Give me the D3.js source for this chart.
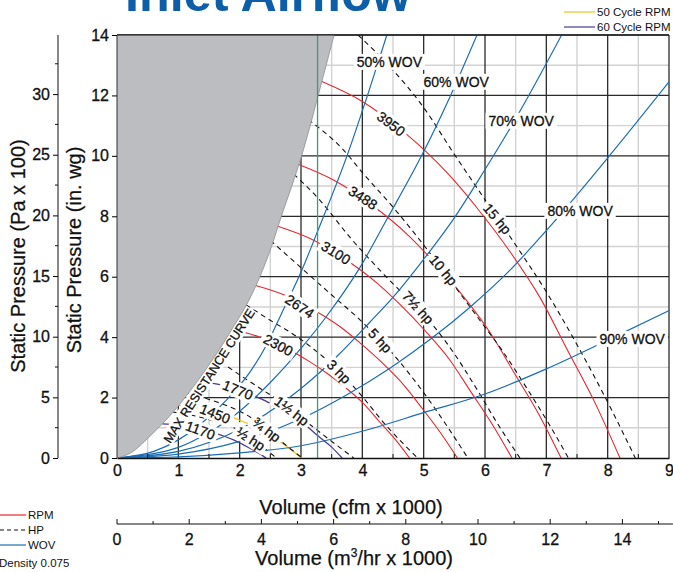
<!DOCTYPE html>
<html>
<head>
<meta charset="utf-8">
<script src="https://cdn.jsdelivr.net/npm/d3@7"></script>
<style>
  body { margin: 0; background: #fff; }
  svg { display: block; font-family: "Liberation Sans", Arial, Helvetica, sans-serif; }
</style>
</head>
<body>
<svg id="chart" width="673" height="572"></svg>
<script>
// ---- data (volume in cfm x 1000, pressure in in. wg) ----
const cfmTicks = [0, 1, 2, 3, 4, 5, 6, 7, 8, 9];
const wgTicks = [0, 2, 4, 6, 8, 10, 12, 14];
const paTicks = [0, 5, 10, 15, 20, 25, 30];
const m3Ticks = [0, 2, 4, 6, 8, 10, 12, 14];

const maxCurve = [[0, 0], [0.25, 0.2], [0.45, 0.55], [0.7, 1.05], [0.93, 1.55], [1.13, 2.05], [1.34, 2.62], [1.54, 3.2], [1.72, 3.75],
  [1.9, 4.35], [2.08, 4.95], [2.33, 6.0], [2.52, 7.0], [2.68, 8.0], [2.85, 9.0], [3.01, 10.0], [3.15, 11.0], [3.28, 12.0], [3.41, 13.0], [3.54, 14.0]];

// fan speed curves
const rpm3950 = [[3.34, 12.46], [4.0, 11.8], [4.7, 10.75], [5.4, 9.4], [5.9, 8.2], [6.4, 6.85], [6.9, 5.3], [7.35, 3.55], [7.8, 1.8], [8.2, 0]];
const rpm3488 = [[2.95, 9.72], [3.53, 9.2], [4.15, 8.38], [4.77, 7.33], [5.21, 6.39], [5.65, 5.34], [6.09, 4.13], [6.49, 2.77], [6.89, 1.4], [7.24, 0]];
const rpm3100 = [[2.62, 7.67], [3.14, 7.27], [3.69, 6.62], [4.24, 5.79], [4.63, 5.05], [5.02, 4.22], [5.42, 3.26], [5.77, 2.19], [6.12, 1.11], [6.44, 0]];
const rpm2674 = [[2.26, 5.71], [2.71, 5.41], [3.18, 4.93], [3.66, 4.31], [3.99, 3.76], [4.33, 3.14], [4.67, 2.43], [4.98, 1.63], [5.28, 0.82], [5.55, 0]];
const rpm2300 = [[1.87, 4.27], [2.33, 4.0], [2.74, 3.65], [3.14, 3.19], [3.44, 2.78], [3.73, 2.32], [4.02, 1.8], [4.28, 1.2], [4.54, 0.61], [4.77, 0]];
const rpm1770 = [[1.31, 2.55], [1.79, 2.37], [2.11, 2.16], [2.42, 1.89], [2.64, 1.65], [2.87, 1.38], [3.09, 1.06], [3.29, 0.71], [3.5, 0.36], [3.67, 0]];
const rpm1450 = [[1.0, 1.74], [1.23, 1.68], [1.47, 1.59], [1.73, 1.45], [1.98, 1.27], [2.17, 1.11], [2.35, 0.92], [2.53, 0.71], [2.7, 0.48], [2.86, 0.24], [3.01, 0]];
const rpm1170 = [[0.74, 1.13], [0.99, 1.09], [1.18, 1.03], [1.39, 0.94], [1.6, 0.82], [1.75, 0.72], [1.9, 0.6], [2.04, 0.46], [2.18, 0.31], [2.31, 0.16], [2.43, 0]];
const rpmLabels = ['3950', '3488', '3100', '2674', '2300', '1770', '1450', '1170'];
const rpmLabelPos = [[4.47, 11.06], [4.01, 8.61], [3.57, 6.79], [2.98, 5.02], [2.63, 3.74], [1.97, 2.25], [1.6, 1.47], [1.36, 0.92]];
const rpmLabelAngle = [37, 33, 32, 34, 28, 22, 22, 20];

// horsepower curves
const hp15 = [[3.93, 14], [4.45, 12.95], [5.0, 11.6], [5.5, 10.05], [6.0, 8.55], [6.5, 7.05], [7.0, 5.5], [7.5, 3.75], [8.0, 1.85], [8.45, 0]];
const hp10 = [[3.12, 11.2], [3.69, 10.2], [4.02, 9.4], [4.48, 8.35], [5.0, 7.05], [5.5, 5.7], [5.9, 4.6], [6.3, 3.5], [6.7, 2.25], [7.05, 1.1], [7.36, 0]];
const hp7half = [[2.88, 9.4], [3.3, 8.55], [3.8, 7.3], [4.34, 6.1], [4.9, 4.95], [5.21, 4.25], [5.5, 3.45], [5.86, 2.3], [6.2, 1.15], [6.57, 0]];
const hp5 = [[2.5, 7.2], [3.0, 6.3], [3.47, 5.45], [4.02, 4.46], [4.56, 3.3], [4.95, 2.3], [5.35, 1.15], [5.72, 0]];
const hp3 = [[2.1, 5.07], [2.49, 4.57], [2.93, 4.02], [3.36, 3.35], [3.66, 2.8], [3.95, 2.15], [4.4, 1.05], [4.9, 0]];
const hp1half = [[1.57, 3.35], [2.0, 2.75], [2.33, 2.31], [2.6, 1.95], [2.85, 1.56], [3.15, 1.1], [3.5, 0.55], [3.86, 0]];
const hp3q = [[1.16, 2.15], [1.7, 1.8], [2.0, 1.55], [2.25, 1.25], [2.5, 0.85], [2.75, 0.43], [3.02, 0]];
const hpHalf = [[0.91, 1.52], [1.4, 1.33], [1.65, 1.18], [1.9, 1.0], [2.15, 0.72], [2.38, 0.36], [2.6, 0]];
const hpLabels = ['15 hp', '10 hp', '7½ hp', '5 hp', '3 hp', '1½ hp', '¾ hp', '½ hp'];
const hpLabelPos = [[6.2, 7.92], [5.32, 6.22], [4.91, 4.98], [4.29, 3.89], [3.62, 2.86], [2.85, 1.56], [2.44, 0.94], [2.18, 0.64]];
const hpLabelAngle = [50, 50, 48, 47, 45, 37, 37, 33];

// wide open volume (system) curves
const wov50 = [[0, 0], [0.6, 0.22], [1.0, 0.6], [1.35, 1.1], [1.8, 1.95], [2.17, 2.85], [2.44, 3.75], [2.71, 4.9], [3.01, 6.2], [3.27, 7.5], [3.75, 10.0], [4.1, 12.1], [4.4, 14]];
const wov60 = [[0, 0], [1.0, 0.35], [1.5, 0.85], [2.0, 1.55], [2.5, 2.5], [3.03, 3.7], [3.42, 4.7], [3.96, 6.3], [4.4, 7.9], [4.99, 10.1], [5.43, 11.96], [5.87, 14]];
const wov70 = [[0, 0], [1, 0.22], [2, 0.95], [3, 2.3], [3.58, 3.35], [4.13, 4.51], [4.51, 5.34], [4.99, 6.55], [5.5, 7.95], [5.97, 9.45], [6.52, 11.3], [7.25, 14]];
const wov80 = [[0, 0], [1, 0.13], [2, 0.55], [3, 1.3], [3.77, 2.12], [4.45, 2.97], [5.13, 3.96], [5.76, 5.0], [6.4, 6.2], [7.01, 7.55], [8.04, 10.03], [9.0, 12.45]];
const wov90 = [[0, 0], [1, 0.04], [2, 0.17], [2.93, 0.38], [4.13, 0.96], [5, 1.5], [6, 2.12], [7, 2.95], [8, 3.9], [9, 4.88]];
const wovLabels = ['50% WOV', '60% WOV', '70% WOV', '80% WOV', '90% WOV'];
const wovLabelPos = [[4.44, 13.11], [5.53, 12.45], [6.59, 11.16], [7.55, 8.18], [8.4, 3.94]];

const maxLabelPos = [1.5, 2.72];
const markedVolume = 3.27;   // green vertical line

// ---- scales ----
const svg = d3.select('#chart');
const x = d3.scaleLinear().domain([0, 9]).range([117, 669]);
const y = d3.scaleLinear().domain([0, 14]).range([458, 35]);
const yPa = d3.scaleLinear().domain([0, 14 * 2.4909]).range([458, 35]);
const xM3 = d3.scaleLinear().domain([0, 15.4]).range([117, x(15.4 / 1.699)]);

const RED = '#e8262d', BLUE = '#1b6db4', PURPLE = '#4b3a93', YELLOW = '#f4c41a';

svg.append('defs').append('clipPath').attr('id', 'plot')
  .append('rect').attr('x', x(0)).attr('y', y(14)).attr('width', x(9) - x(0)).attr('height', y(0) - y(14));

// ---- grid ----
const grid = svg.append('g');
grid.selectAll('.vmin').data(d3.range(0.5, 9, 1)).enter().append('line')
  .attr('x1', d => x(d)).attr('x2', d => x(d)).attr('y1', y(0)).attr('y2', y(14))
  .attr('stroke', '#d2d2d2').attr('stroke-width', 1.4);
grid.selectAll('.hmin').data(d3.range(1, 14, 2)).enter().append('line')
  .attr('x1', x(0)).attr('x2', x(9)).attr('y1', d => y(d)).attr('y2', d => y(d))
  .attr('stroke', '#d2d2d2').attr('stroke-width', 1.4);
grid.selectAll('.vmaj').data(d3.range(1, 10)).enter().append('line')
  .attr('x1', d => x(d)).attr('x2', d => x(d)).attr('y1', y(0)).attr('y2', y(14))
  .attr('stroke', '#2a2a2a').attr('stroke-width', 1.3);
grid.selectAll('.hmaj').data(d3.range(2, 15, 2)).enter().append('line')
  .attr('x1', x(0)).attr('x2', x(9)).attr('y1', d => y(d)).attr('y2', d => y(d))
  .attr('stroke', '#2a2a2a').attr('stroke-width', 1.3);

// ---- curves ----
const line = d3.line().x(d => x(d[0])).y(d => y(d[1])).curve(d3.curveMonotoneX);
const curves = svg.append('g').attr('clip-path', 'url(#plot)').attr('fill', 'none');

[rpm3950, rpm3488, rpm3100, rpm2674, rpm2300].forEach(c => {
  curves.append('path').attr('d', line(c)).attr('stroke', RED).attr('stroke-width', 1.1);
});
curves.append('path').attr('d', line(rpm1770)).attr('stroke', PURPLE).attr('stroke-width', 1.3);
curves.append('path').attr('d', line(rpm1450)).attr('stroke', YELLOW).attr('stroke-width', 1.3);
curves.append('path').attr('d', line(rpm1170)).attr('stroke', PURPLE).attr('stroke-width', 1.3);

[hp15, hp10, hp7half, hp5, hp3, hp1half, hp3q, hpHalf].forEach(c => {
  curves.append('path').attr('d', line(c)).attr('stroke', '#111').attr('stroke-width', 1.1).attr('stroke-dasharray', '5,4');
});

[wov50, wov60, wov70, wov80, wov90].forEach(c => {
  curves.append('path').attr('d', line(c)).attr('stroke', BLUE).attr('stroke-width', 1.2);
});

// ---- label helper: text on a white box ----
function addLabel(layer, txt, px, py, angle, size, pad) {
  const g = layer.append('g').attr('transform', `translate(${px},${py}) rotate(${angle})`);
  const r = g.append('rect').attr('fill', '#fff');
  const t = g.append('text').attr('text-anchor', 'middle').attr('dy', '0.36em')
    .style('font-size', size + 'px').attr('fill', '#111')
    .attr('stroke', '#111').attr('stroke-width', 0.3).text(txt);
  const w = t.node().getComputedTextLength();
  const p = pad === undefined ? 3 : pad;
  r.attr('x', -w / 2 - p).attr('y', -size / 2 - 1).attr('width', w + 2 * p).attr('height', size + 2);
}

// max resistance label: drawn before the grey so the grey edge stays on top
const labels0 = svg.append('g');
addLabel(labels0, 'MAX RESISTANCE CURVE', x(maxLabelPos[0]), y(maxLabelPos[1]), -57, 12.5, 1);

// ---- grey no-go area left of the max resistance curve ----
const area = d3.area().x(d => x(d[0])).y0(d => y(d[1])).y1(y(14)).curve(d3.curveMonotoneX);
svg.append('path').attr('d', area(maxCurve)).attr('fill', '#bcbdc1');
svg.append('path').attr('d', line(maxCurve)).attr('fill', 'none').attr('stroke', '#8d8e92').attr('stroke-width', 0.8);

svg.append('line').attr('x1', x(markedVolume)).attr('x2', x(markedVolume)).attr('y1', y(0)).attr('y2', y(14))
  .attr('stroke', '#3f9a6e').attr('stroke-width', 1.3);

// frame
svg.append('line').attr('x1', x(0)).attr('x2', x(9)).attr('y1', y(14)).attr('y2', y(14)).attr('stroke', '#111').attr('stroke-width', 1.2);
svg.append('line').attr('x1', x(0)).attr('x2', x(0)).attr('y1', y(0)).attr('y2', y(14)).attr('stroke', '#333').attr('stroke-width', 1);

// ---- curve labels ----
const labels = svg.append('g');
rpmLabels.forEach((t, i) => addLabel(labels, t, x(rpmLabelPos[i][0]), y(rpmLabelPos[i][1]), rpmLabelAngle[i], 14));
hpLabels.forEach((t, i) => addLabel(labels, t, x(hpLabelPos[i][0]), y(hpLabelPos[i][1]), hpLabelAngle[i], 14));
wovLabels.forEach((t, i) => addLabel(labels, t, x(wovLabelPos[i][0]), y(wovLabelPos[i][1]), 0, 14));

// ---- axes ----
const tickFont = '16px';
function styleTicks(sel) {
  sel.selectAll('text').style('font-size', tickFont).attr('fill', '#111').attr('stroke', '#111').attr('stroke-width', 0.3);
}

// cfm axis
const xAxis = svg.append('g').attr('transform', `translate(0,${y(0)})`)
  .call(d3.axisBottom(x).tickValues(cfmTicks).tickSize(0).tickPadding(7));
xAxis.select('.domain').attr('stroke', '#111').attr('stroke-width', 1.4);
styleTicks(xAxis);
svg.selectAll('.xminor').data(d3.range(0.5, 9, 1)).enter().append('line')
  .attr('x1', d => x(d)).attr('x2', d => x(d)).attr('y1', y(0)).attr('y2', y(0) - 4)
  .attr('stroke', '#111');

// in. wg axis
const yAxis = svg.append('g').attr('transform', `translate(${x(0)},0)`)
  .call(d3.axisLeft(y).tickValues(wgTicks).tickSize(5).tickPadding(3));
yAxis.select('.domain').remove();
styleTicks(yAxis);

// Pa axis
const paAxis = svg.append('g').attr('transform', 'translate(58,0)')
  .call(d3.axisLeft(yPa).tickValues(paTicks).tickSize(5).tickPadding(3));
paAxis.select('.domain').remove();
styleTicks(paAxis);
svg.append('line').attr('x1', 58).attr('x2', 58).attr('y1', y(0)).attr('y2', y(14)).attr('stroke', '#111');
svg.selectAll('.paminor').data(d3.range(2.5, 34, 5)).enter().append('line')
  .attr('x1', 58).attr('x2', 55).attr('y1', d => yPa(d)).attr('y2', d => yPa(d)).attr('stroke', '#111');

// m3/hr axis
const m3Y = 524;
svg.append('line').attr('x1', xM3(0)).attr('x2', xM3(15.4)).attr('y1', m3Y).attr('y2', m3Y).attr('stroke', '#111').attr('stroke-width', 1.2);
svg.selectAll('.m3tick').data(d3.range(0, 16)).enter().append('line')
  .attr('x1', d => xM3(d)).attr('x2', d => xM3(d)).attr('y1', m3Y).attr('y2', d => m3Y - (d % 2 ? 3 : 5))
  .attr('stroke', '#111');
svg.selectAll('.m3label').data(m3Ticks).enter().append('text')
  .attr('x', d => xM3(d)).attr('y', m3Y + 21).attr('text-anchor', 'middle')
  .style('font-size', tickFont).attr('fill', '#111').attr('stroke', '#111').attr('stroke-width', 0.3).text(d => d);

// axis titles
const titleStyle = sel => sel.style('font-size', '20px').attr('fill', '#111').attr('stroke', '#111').attr('stroke-width', 0.25);
svg.append('text').attr('transform', 'translate(25,256) rotate(-90)').attr('text-anchor', 'middle')
  .call(titleStyle).text('Static Pressure (Pa x 100)');
svg.append('text').attr('transform', 'translate(81,250) rotate(-90)').attr('text-anchor', 'middle')
  .call(titleStyle).text('Static Pressure (in. wg)');
svg.append('text').attr('x', 351).attr('y', 514).attr('text-anchor', 'middle')
  .call(titleStyle).text('Volume (cfm x 1000)');
const m3Title = svg.append('text').attr('x', 354).attr('y', 565).attr('text-anchor', 'middle').call(titleStyle);
m3Title.append('tspan').text('Volume (m');
m3Title.append('tspan').attr('dy', -8).style('font-size', '12px').text('3');
m3Title.append('tspan').attr('dy', 8).text('/hr x 1000)');

// title (cut off at the top edge, as in the source)
svg.append('text').attr('x', 125).attr('y', 11).attr('textLength', 286).attr('lengthAdjust', 'spacingAndGlyphs')
  .style('font-size', '50px').style('font-weight', 'bold').attr('fill', '#0c5ea8').text('Inlet Airflow');

// top-right legend
const cycleLegend = [['50 Cycle RPM', YELLOW, 12], ['60 Cycle RPM', PURPLE, 27]];
cycleLegend.forEach(d => {
  svg.append('line').attr('x1', 564).attr('x2', 595).attr('y1', d[2]).attr('y2', d[2]).attr('stroke', d[1]).attr('stroke-width', 1.2);
  svg.append('text').attr('x', 597).attr('y', d[2] + 4).style('font-size', '11.5px').attr('fill', '#111').text(d[0]);
});

// bottom-left legend
const keyLegend = [['RPM', RED, null, 515], ['HP', '#111', '4,3', 530], ['WOV', BLUE, null, 545]];
keyLegend.forEach(d => {
  svg.append('line').attr('x1', 0).attr('x2', 26).attr('y1', d[3]).attr('y2', d[3])
    .attr('stroke', d[1]).attr('stroke-width', 1.2).attr('stroke-dasharray', d[2]);
  svg.append('text').attr('x', 28).attr('y', d[3] + 4).style('font-size', '11.5px').attr('fill', '#111').text(d[0]);
});
svg.append('text').attr('x', -1).attr('y', 567).style('font-size', '11.5px').attr('fill', '#111').text('Density 0.075');
</script>
</body>
</html>
